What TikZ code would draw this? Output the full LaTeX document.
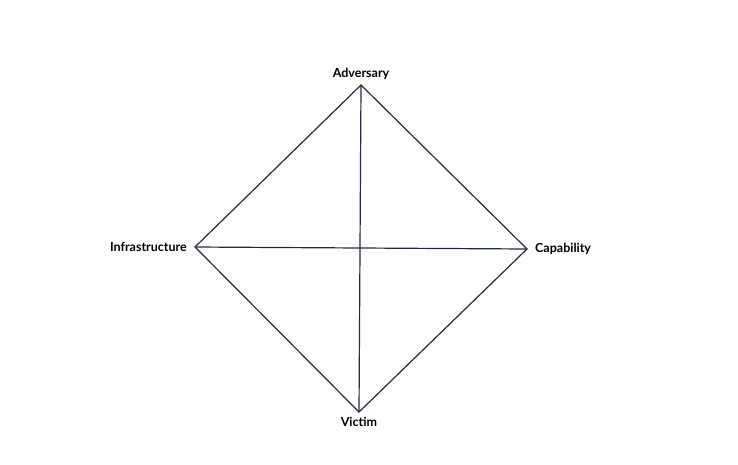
\documentclass[tikz,border=0pt]{standalone}
\usepackage{fontspec}
\setmainfont{Lato}
\usetikzlibrary{positioning}
\definecolor{edgecol}{HTML}{1F2A3A}
\tikzset{lbl/.style={font=\bfseries\fontsize{12.5}{14}\selectfont, inner sep=2pt},
         side/.style={draw=edgecol, line width=1.2pt}}
\begin{document}
\begin{tikzpicture}[x=1pt,y=-1pt]
  \useasboundingbox (0,0) rectangle (738,464);
  % corners of the diamond
  \coordinate (A) at (361,85);
  \coordinate (I) at (195,247);
  \coordinate (C) at (527,249);
  \coordinate (V) at (359,412);
  \node [lbl, above=3pt of A] (adv) {Adversary};
  \node [lbl, left=6pt of I] (inf) {Infrastructure};
  \node [lbl, right=6pt of C] (cap) {Capability};
  \node [lbl, below=3pt of V] (vic) {Victim};
  \draw [side] (A) -- (C) -- (V) -- (I) -- cycle;
  \draw [side] (A) -- (V);
  \draw [side] (I) -- (C);
\end{tikzpicture}
\end{document}
